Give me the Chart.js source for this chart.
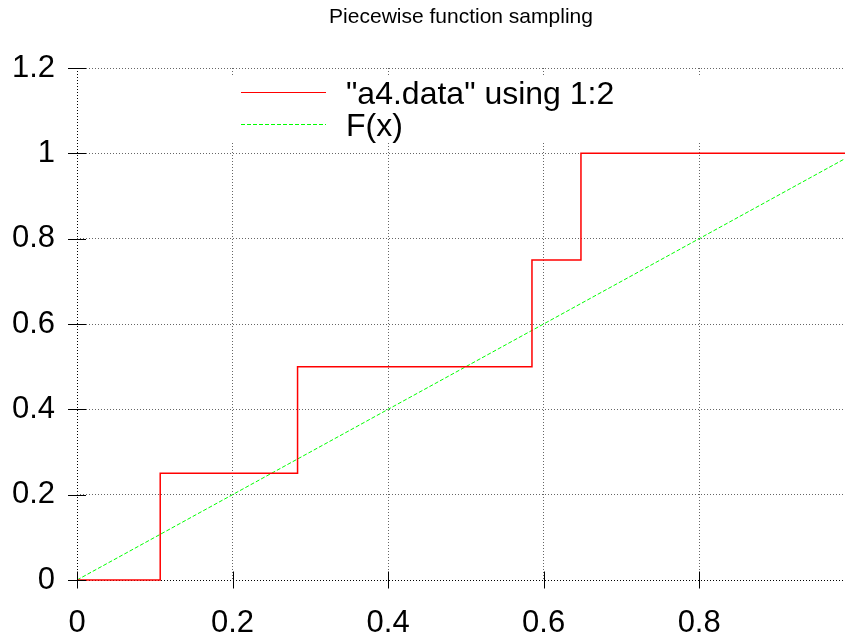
<!DOCTYPE html>
<html>
<head>
<meta charset="utf-8">
<script src="https://cdn.jsdelivr.net/npm/chart.js@4/dist/chart.umd.min.js"></script>
<style>
  html, body { margin: 0; padding: 0; background: #fff; }
  #wrap { width: 845px; height: 642px; position: relative; }
</style>
</head>
<body>
<div id="wrap"><canvas id="c" width="845" height="642"></canvas></div>
<script>
// ---- data ----
const titleText = 'Piecewise function sampling';
const stepLabel = '"a4.data" using 1:2';
const lineLabel = 'F(x)';
const stepX = [0, 0.107, 0.2836, 0.585, 0.648, 0.9875];
const stepY = [0, 0.25, 0.5, 0.75, 1, 1];
const fX = [0, 0.9875];
const fY = [0, 0.9875];
const xTicks = [0, 0.2, 0.4, 0.6, 0.8];
const yTicks = [0, 0.2, 0.4, 0.6, 0.8, 1, 1.2];
const xMin = 0, xMax = 0.9875, yMin = 0, yMax = 1.2;

const FONT = '"Liberation Sans", Arial, Helvetica, sans-serif';
const RED = 'rgb(255,0,0)';
const GREEN = 'rgb(0,255,0)';

const toPts = (xs, ys) => xs.map((x, i) => ({ x: x, y: ys[i] }));

const legendItems = [
  { text: stepLabel, color: RED, dash: [] },
  { text: lineLabel, color: GREEN, dash: [4, 2] }
];

const gnuLegend = {
  id: 'gnuLegend',
  beforeDatasetsDraw(chart) {
    const ctx = chart.ctx;
    ctx.save();
    ctx.fillStyle = '#fff';
    ctx.fillRect(215, 77, 510, 65);
    ctx.restore();
  },
  afterDatasetsDraw(chart) {
    const ctx = chart.ctx;
    ctx.save();
    legendItems.forEach((it, i) => {
      const y = 92.5 + i * 32;
      ctx.beginPath();
      ctx.strokeStyle = it.color;
      ctx.lineWidth = 1;
      ctx.setLineDash(it.dash);
      ctx.moveTo(241, y);
      ctx.lineTo(326, y);
      ctx.stroke();
      ctx.setLineDash([]);
      ctx.fillStyle = '#000';
      ctx.font = '32px ' + FONT;
      ctx.textAlign = 'left';
      ctx.textBaseline = 'alphabetic';
      ctx.fillText(it.text, 346, 103.5 + i * 32.5);
    });
    ctx.restore();
  },
  afterDraw(chart) {
    const ctx = chart.ctx;
    const xs = chart.scales.x, ys = chart.scales.y;
    const a = chart.chartArea;
    ctx.save();
    ctx.strokeStyle = '#000';
    ctx.lineWidth = 1;
    ctx.setLineDash([]);
    ys.ticks.forEach(t => {
      const py = Math.round(ys.getPixelForValue(t.value)) + 0.5;
      ctx.beginPath();
      ctx.moveTo(a.left - 9, py);
      ctx.lineTo(a.left + 9, py);
      ctx.stroke();
    });
    xs.ticks.forEach(t => {
      const px = Math.round(xs.getPixelForValue(t.value)) + 0.5;
      ctx.beginPath();
      ctx.moveTo(px, a.bottom - 8.5);
      ctx.lineTo(px, a.bottom + 8.5);
      ctx.stroke();
    });
    ctx.restore();
  }
};

new Chart(document.getElementById('c'), {
  type: 'scatter',
  data: {
    datasets: [
      {
        label: stepLabel,
        data: toPts(stepX, stepY),
        showLine: true,
        stepped: 'before',
        borderColor: RED,
        borderWidth: 1.5,
        pointRadius: 0,
        fill: false,
        clip: 2
      },
      {
        label: lineLabel,
        data: toPts(fX, fY),
        showLine: true,
        borderColor: GREEN,
        borderWidth: 1,
        borderDash: [4, 2],
        pointRadius: 0,
        fill: false
      }
    ]
  },
  options: {
    responsive: false,
    animation: false,
    devicePixelRatio: 1,
    layout: { padding: { left: 0, right: 0, top: 0, bottom: 0 } },
    plugins: {
      legend: { display: false },
      tooltip: { enabled: false },
      title: {
        display: true,
        text: titleText,
        fullSize: false,
        color: '#000',
        font: { family: FONT, size: 21, weight: 'normal', lineHeight: 1.2 },
        padding: { top: 5, bottom: 37.8 }
      }
    },
    scales: {
      x: {
        type: 'linear',
        min: xMin,
        max: xMax,
        afterBuildTicks: s => { s.ticks = xTicks.map(v => ({ value: v })); },
        afterFit: s => { s.height = 62; },
        ticks: {
          includeBounds: false,
          color: '#000',
          padding: 25,
          maxRotation: 0,
          font: { family: FONT, size: 31 },
          callback: v => String(Math.round(v * 10) / 10)
        },
        grid: {
          drawTicks: false,
          lineWidth: 1,
          color: c => (c.tick && c.tick.value === 0) ? '#000' : '#666'
        },
        border: { display: false, dash: [1, 2] }
      },
      y: {
        type: 'linear',
        min: yMin,
        max: yMax,
        afterBuildTicks: s => { s.ticks = yTicks.map(v => ({ value: v })); },
        afterFit: s => { s.width = 77; },
        ticks: {
          color: '#000',
          padding: 22,
          font: { family: FONT, size: 31 },
          callback: v => String(Math.round(v * 10) / 10)
        },
        grid: {
          drawTicks: false,
          lineWidth: 1,
          color: c => (c.tick && c.tick.value === 0) ? '#000' : '#666'
        },
        border: { display: false, dash: [1, 2] }
      }
    }
  },
  plugins: [gnuLegend]
});
</script>
</body>
</html>
